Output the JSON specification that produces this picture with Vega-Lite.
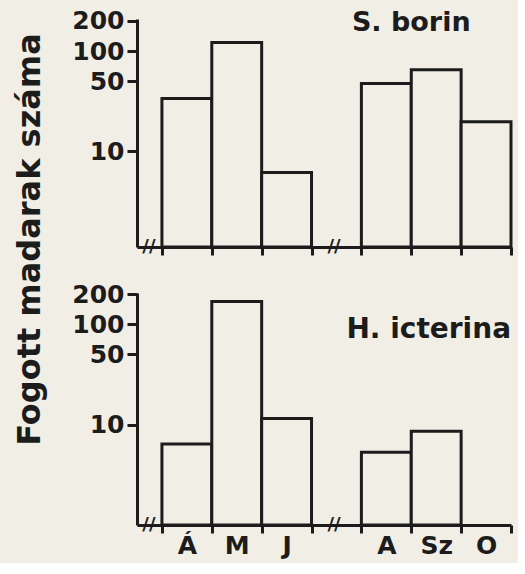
{
  "$schema": "https://vega.github.io/schema/vega-lite/v6.json",
  "background": "#f1eee6",
  "padding": {"left": 12, "top": 8, "right": 5, "bottom": 5},
  "datasets": {
    "borin": [
      {"honap": "Á", "n": 33.6},
      {"honap": "M", "n": 122},
      {"honap": "J", "n": 6.1},
      {"honap": "A", "n": 47.5},
      {"honap": "Sz", "n": 65},
      {"honap": "O", "n": 19.6}
    ],
    "icterina": [
      {"honap": "Á", "n": 6.4},
      {"honap": "M", "n": 169},
      {"honap": "J", "n": 11.5},
      {"honap": "A", "n": 5.3},
      {"honap": "Sz", "n": 8.6}
    ],
    "faj1": [{"faj": "S. borin"}],
    "faj2": [{"faj": "H. icterina"}]
  },
  "spacing": 46,
  "bounds": "flush",
  "config": {
    "view": {"stroke": null},
    "font": "DejaVu Sans",
    "axis": {
      "grid": false,
      "domainColor": "#1c1c1c",
      "domainWidth": 3,
      "tickColor": "#1c1c1c",
      "tickWidth": 3,
      "labelColor": "#1c1c1c",
      "labelFont": "DejaVu Sans",
      "labelFontWeight": "bold",
      "labelFontSize": 25,
      "titleFont": "DejaVu Sans",
      "titleFontWeight": "bold",
      "titleColor": "#1c1c1c"
    }
  },
  "vconcat": [
    {
      "width": 374,
      "height": 228,
      "layer": [
        {
          "data": {"name": "borin"},
          "mark": {"type": "bar", "fill": "#f1eee6", "stroke": "#1c1c1c", "strokeWidth": 3},
          "encoding": {
            "x": {
              "field": "honap", "type": "ordinal", "sort": null,
              "scale": {"domain": ["Á", "M", "J", "Jl", "A", "Sz", "O"], "paddingInner": 0, "paddingOuter": 0.25, "align": 1},
              "axis": {"tickBand": "extent", "labels": false, "title": null, "tickSize": 8}
            },
            "y": {
              "field": "n", "type": "quantitative",
              "scale": {"type": "log", "domain": [1.1, 209], "nice": false},
              "axis": {
                "values": [10, 50, 100, 200], "format": "d", "tickSize": 10, "labelPadding": 3,
                "title": "Fogott madarak száma", "titleFontSize": 32,
                "titleX": -98, "titleY": 220, "titleAngle": -90, "titleAlign": "center", "titleBaseline": "alphabetic"
              }
            },
            "y2": {"datum": 1.1}
          }
        },
        {
          "data": {"name": "faj1"},
          "mark": {"type": "text", "font": "DejaVu Sans", "fontWeight": "bold", "fontSize": 27, "color": "#1c1c1c", "align": "center", "baseline": "middle"},
          "encoding": {
            "x": {"datum": "Sz", "type": "ordinal", "bandPosition": 0},
            "y": {"datum": 190, "type": "quantitative"},
            "text": {"field": "faj"}
          }
        },
        {
          "data": {"name": "faj1"},
          "mark": {"type": "text", "font": "DejaVu Sans", "fontWeight": "bold", "fontSize": 18, "color": "#1c1c1c", "align": "center", "baseline": "middle", "dx": -13},
          "encoding": {
            "x": {"datum": "Á", "type": "ordinal", "bandPosition": 0},
            "y": {"datum": 1.1, "type": "quantitative"},
            "text": {"value": "//"}
          }
        },
        {
          "data": {"name": "faj1"},
          "mark": {"type": "text", "font": "DejaVu Sans", "fontWeight": "bold", "fontSize": 18, "color": "#1c1c1c", "align": "center", "baseline": "middle"},
          "encoding": {
            "x": {"datum": "Jl", "type": "ordinal", "bandPosition": 0.45},
            "y": {"datum": 1.1, "type": "quantitative"},
            "text": {"value": "//"}
          }
        }
      ]
    },
    {
      "width": 374,
      "height": 232,
      "layer": [
        {
          "data": {"name": "icterina"},
          "mark": {"type": "bar", "fill": "#f1eee6", "stroke": "#1c1c1c", "strokeWidth": 3},
          "encoding": {
            "x": {
              "field": "honap", "type": "ordinal", "sort": null,
              "scale": {"domain": ["Á", "M", "J", "Jl", "A", "Sz", "O"], "paddingInner": 0, "paddingOuter": 0.25, "align": 1},
              "axis": {"tickBand": "extent", "title": null, "tickSize": 8, "labelPadding": 0, "labelAngle": 0,
                       "labelExpr": "datum.value == 'Jl' ? '' : datum.value"}
            },
            "y": {
              "field": "n", "type": "quantitative",
              "scale": {"type": "log", "domain": [1, 205], "nice": false},
              "axis": {"values": [10, 50, 100, 200], "format": "d", "tickSize": 10, "labelPadding": 3, "title": null}
            },
            "y2": {"datum": 1}
          }
        },
        {
          "data": {"name": "faj2"},
          "mark": {"type": "text", "font": "DejaVu Sans", "fontWeight": "bold", "fontSize": 28, "color": "#1c1c1c", "align": "center", "baseline": "middle"},
          "encoding": {
            "x": {"datum": "Sz", "type": "ordinal", "bandPosition": 0.35},
            "y": {"datum": 87, "type": "quantitative"},
            "text": {"field": "faj"}
          }
        },
        {
          "data": {"name": "faj2"},
          "mark": {"type": "text", "font": "DejaVu Sans", "fontWeight": "bold", "fontSize": 18, "color": "#1c1c1c", "align": "center", "baseline": "middle", "dx": -13},
          "encoding": {
            "x": {"datum": "Á", "type": "ordinal", "bandPosition": 0},
            "y": {"datum": 1, "type": "quantitative"},
            "text": {"value": "//"}
          }
        },
        {
          "data": {"name": "faj2"},
          "mark": {"type": "text", "font": "DejaVu Sans", "fontWeight": "bold", "fontSize": 18, "color": "#1c1c1c", "align": "center", "baseline": "middle"},
          "encoding": {
            "x": {"datum": "Jl", "type": "ordinal", "bandPosition": 0.45},
            "y": {"datum": 1, "type": "quantitative"},
            "text": {"value": "//"}
          }
        }
      ]
    }
  ]
}
